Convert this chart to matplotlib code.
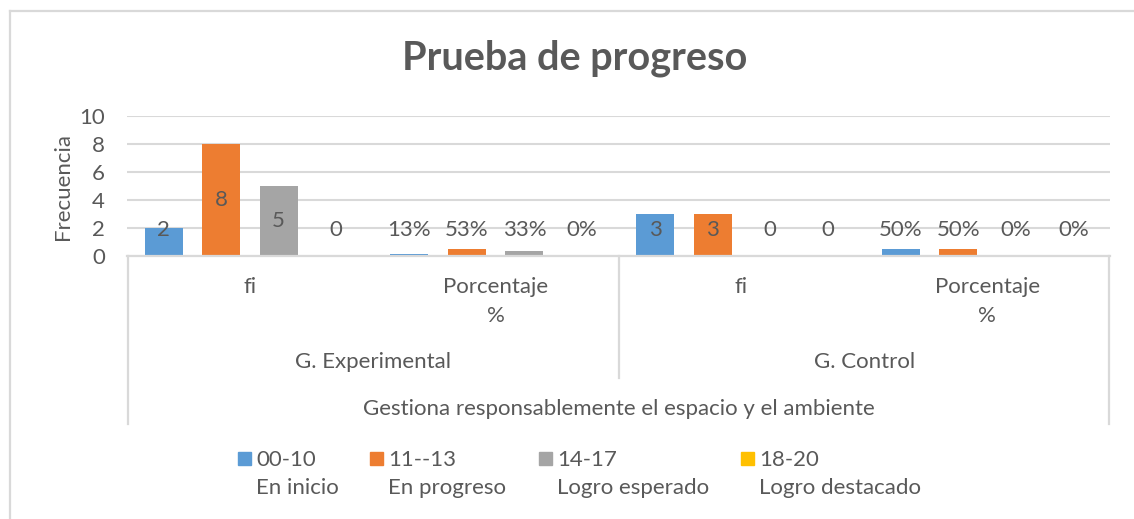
import matplotlib.pyplot as plt
from matplotlib.lines import Line2D
from matplotlib.patches import Rectangle
import numpy as np

plt.rcParams['font.family'] = ['Lato', 'DejaVu Sans']

# Data
groups = ['fi', 'Porcentaje\n%', 'fi', 'Porcentaje\n%']
supergroups = ['G. Experimental', 'G. Control']
axis_title = 'Gestiona responsablemente el espacio y el ambiente'
series_names = ['00-10', '11--13', '14-17', '18-20']
series_sub = ['En inicio', 'En progreso', 'Logro esperado', 'Logro destacado']
colors = ['#5B9BD5', '#ED7D31', '#A5A5A5', '#FFC000']
# values per series across the 4 groups
v_inicio = [2, 0.13, 3, 0.50]
v_progreso = [8, 0.53, 3, 0.50]
v_esperado = [5, 0.33, 0, 0.0]
v_destacado = [0, 0.0, 0, 0.0]
series_vals = [v_inicio, v_progreso, v_esperado, v_destacado]
is_pct = [False, True, False, True]

W, H = 1134, 519
fig = plt.figure(figsize=(W / 100, H / 100), dpi=100)

def fx(px):
    return px / W

def fy(py):
    return 1 - py / H

ax = fig.add_axes([fx(127), fy(256), fx(1110) - fx(127), fy(116) - fy(256)])
txt = '#595959'
grid = '#D9D9D9'
fs = 16

x = np.arange(len(groups))
step = 0.234
width = 0.155
for i, vals in enumerate(series_vals):
    pos = x + (i - 1.5) * step
    ax.bar(pos, vals, width, color=colors[i], zorder=3)
    for p, v, pct in zip(pos, vals, is_pct):
        lab = f'{v:.0%}' if pct else f'{v:g}'
        ax.text(p, max(v / 2, 1.85), lab, ha='center', va='center',
                fontsize=fs, color=txt, zorder=4)

ax.set_xlim(-0.5, 3.5)
ax.set_ylim(0, 10)
ax.set_yticks(range(0, 11, 2))
ax.tick_params(axis='y', length=0, labelsize=fs, labelcolor=txt, pad=16)
ax.set_xticks([])
ax.grid(axis='y', color=grid, linewidth=1.5, zorder=0)
for s in ax.spines.values():
    s.set_visible(False)
ax.set_ylabel('Frecuencia', fontsize=fs, color=txt, labelpad=4)

# category table below axis
def line(x0, y0, x1, y1):
    fig.add_artist(Line2D([fx(x0), fx(x1)], [fy(y0), fy(y1)], color=grid, lw=1.6))

line(127, 256, 1110, 256)
line(128, 256, 128, 424)
line(619, 256, 619, 378)
line(1109, 256, 1109, 424)
# outer chart border
line(10, 11, 1134, 11)
line(10, 11, 10, 519)

for gx, g in zip(x, groups):
    lines = g.split('\n')
    xf = fx(127) + (gx + 0.5) / 4 * (fx(1110) - fx(127))
    for k, t in enumerate(lines):
        fig.text(xf, fy(287 + 29 * k), t, ha='center', va='center', fontsize=fs, color=txt)
for k, sg in enumerate(supergroups):
    xf = fx(127) + (2 * k + 1) / 4 * (fx(1110) - fx(127))
    fig.text(xf, fy(362), sg, ha='center', va='center', fontsize=fs, color=txt)
fig.text(fx(619), fy(409), axis_title, ha='center', va='center', fontsize=fs, color=txt)

fig.text(fx(575), fy(58), 'Prueba de progreso', ha='center', va='center',
         fontsize=28.5, fontweight='bold', color=txt)

# legend
leg_x = [238, 370, 539, 741]
for lx, c, n, s in zip(leg_x, colors, series_names, series_sub):
    fig.add_artist(Rectangle((fx(lx), fy(465)), fx(13), 13 / H, color=c,
                             transform=fig.transFigure))
    fig.text(fx(lx + 18), fy(460), n, ha='left', va='center', fontsize=fs, color=txt)
    fig.text(fx(lx + 18), fy(488), s, ha='left', va='center', fontsize=fs, color=txt)

fig.savefig('out.png', dpi=100, facecolor='white')
